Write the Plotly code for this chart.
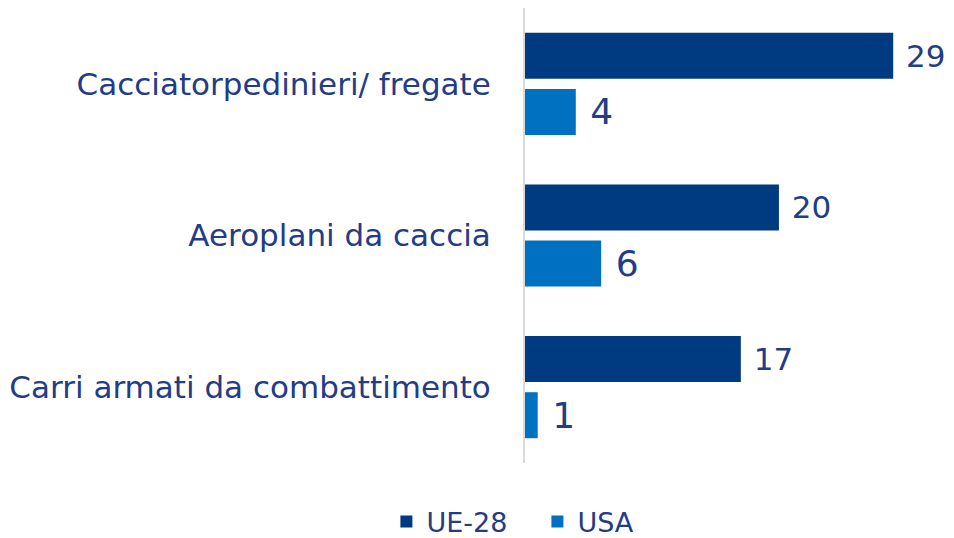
import plotly.graph_objects as go

categories = ["Cacciatorpedinieri/ fregate", "Aeroplani da caccia", "Carri armati da combattimento"]
ue28 = [29, 20, 17]
usa = [4, 6, 1]
series_names = ["UE-28", "USA"]

NAVY = "#003A80"
BLUE = "#0070C0"
TXT = "#233C86"
FONT = "DejaVu Sans"
NB = "\u00a0"

fig = go.Figure()
fig.add_trace(go.Bar(
    y=categories, x=ue28, name=series_names[0], orientation="h",
    marker=dict(color=NAVY, line=dict(width=0)),
    text=[NB + str(v) for v in ue28], textposition="outside",
    textfont=dict(family=FONT, size=31, color=TXT), cliponaxis=False,
))
fig.add_trace(go.Bar(
    y=categories, x=usa, name=series_names[1], orientation="h",
    marker=dict(color=BLUE, line=dict(width=0)),
    text=[NB + str(v) for v in usa], textposition="outside",
    textfont=dict(family=FONT, size=36, color=TXT), cliponaxis=False,
))

fig.update_layout(
    width=946, height=530,
    margin=dict(l=517, r=10, t=0, b=75),
    paper_bgcolor="white", plot_bgcolor="white",
    barmode="group", bargap=0.26, bargroupgap=0.18,
    font=dict(family=FONT, color=TXT),
    showlegend=True,
    legend=dict(
        orientation="h", xref="container", yref="container",
        x=0.40, xanchor="left", y=0.0302, yanchor="middle",
        font=dict(family=FONT, size=27, color=TXT),
        itemwidth=30, traceorder="normal",
        entrywidth=106, entrywidthmode="pixels",
    ),
)
fig.update_yaxes(
    autorange="reversed", showgrid=False, showline=True,
    linecolor="#D9D9D9", linewidth=2, ticks="", ticklabelstandoff=26,
    tickfont=dict(family=FONT, size=31, color=TXT),
)
fig.update_xaxes(
    range=[0, 33], showgrid=False, zeroline=False, showline=False,
    showticklabels=False, ticks="",
)

fig.write_html("out.html")
